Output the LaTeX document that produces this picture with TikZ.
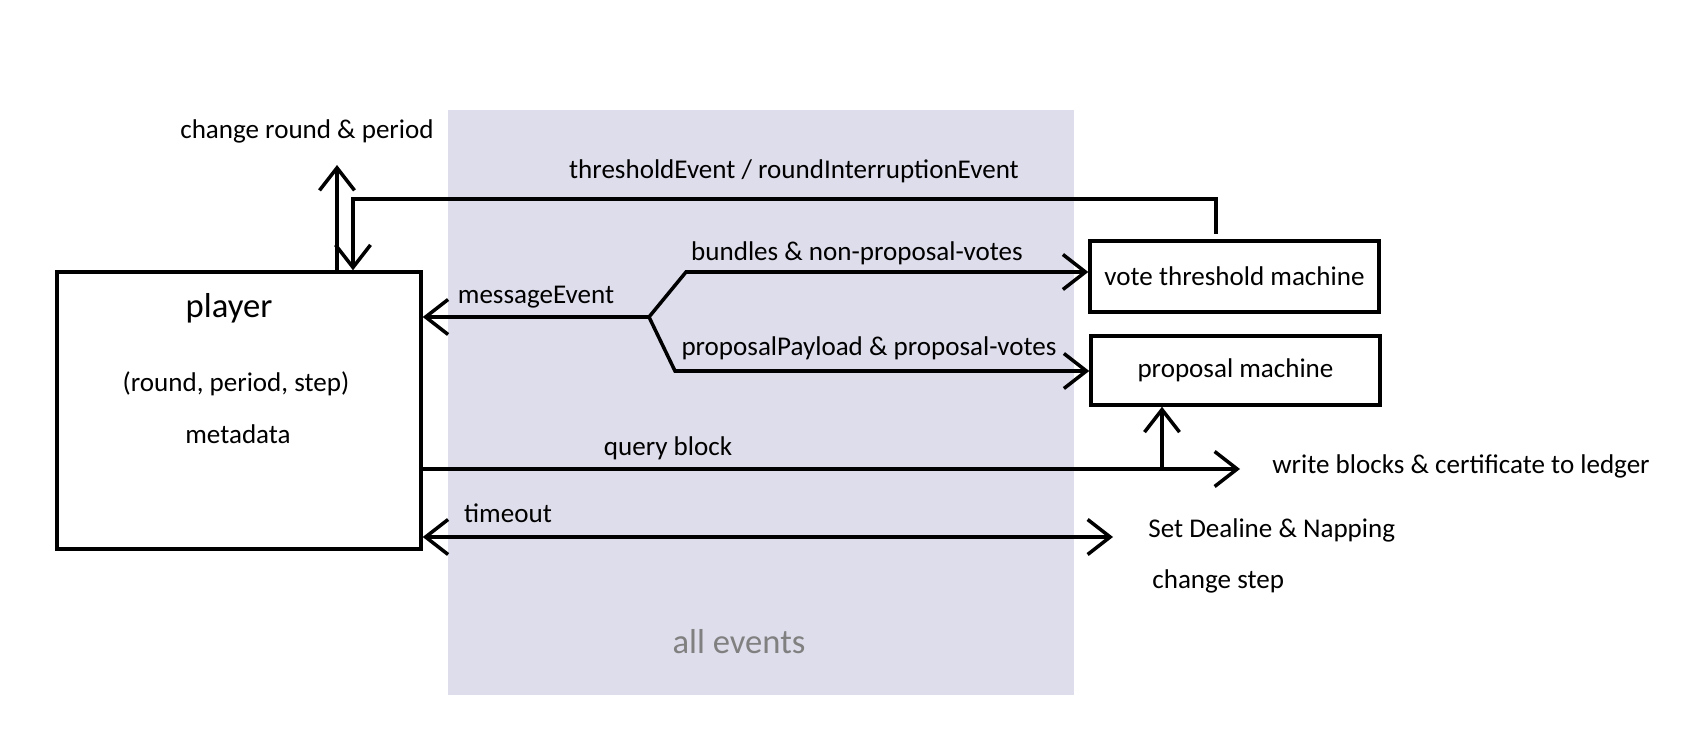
\documentclass[tikz,border=0pt]{standalone}
\usepackage{fontspec}
\setmainfont{Carlito}
\usepackage{xcolor}
\usepackage{tikz}
\usetikzlibrary{arrows.meta,positioning,calc}

\definecolor{zonefill}{RGB}{222,221,235}
\definecolor{zonetext}{RGB}{128,128,128}

\begin{document}
\begin{tikzpicture}[
    x=0.02cm, y=-0.02cm,
    zone/.style={rectangle, fill=zonefill, draw=none,
                 minimum width=12.52cm, minimum height=11.7cm},
    machine/.style={rectangle, draw=black, line width=2pt,
                 minimum width=5.78cm, minimum height=1.4cm},
    lbl/.style={inner sep=0pt, font=\fontsize{15.4}{18}\selectfont},
    big/.style={inner sep=0pt, font=\fontsize{19.7}{23}\selectfont},
    arr/.style={-{Straight Barb[length=4.5mm, width=7mm]}, line width=2pt},
    darr/.style={{Straight Barb[length=4.5mm, width=7mm]}-{Straight Barb[length=4.5mm, width=7mm]},
                 line width=2pt},
]
\useasboundingbox (0,0) rectangle (1701,746);

%% ─── Event zone ─────────────────────────────────────────────────────────────
\node[zone] (zone) at (761,402.5) {};
\node[big, text=zonetext] (allev) at (739,642) {all events};

%% ─── Player ─────────────────────────────────────────────────────────────────
\node[rectangle, draw=black, line width=2pt,
      minimum width=7.28cm, minimum height=5.54cm] (player) at (239,410.5) {};
\node[big] (p_name) at (229,308) {player};
\node[lbl] (p_rps)  at (236,384) {(round, period, step)};
\node[lbl] (p_meta) at (238,434) {metadata};

%% ─── Machines ───────────────────────────────────────────────────────────────
\node[machine, minimum height=1.42cm] (vtm) at (1234.5,276.5) {};
\node[lbl] at (vtm.center) {vote threshold machine};
\node[machine, minimum height=1.38cm] (pm) at (1235.5,370.5) {};
\node[lbl] at (pm.center) {proposal machine};

%% ─── Labels ─────────────────────────────────────────────────────────────────
\node[lbl] (chg)    at (307,131) {change round \& period};
\node[lbl] (thrlbl) at (794,171) {thresholdEvent / roundInterruptionEvent};
\node[lbl] (msglbl) at (536,297) {messageEvent};
\node[lbl] (bunlbl) at (857,253) {bundles \& non-proposal-votes};
\node[lbl] (prplbl) at (869,348) {proposalPayload \& proposal-votes};
\node[lbl] (qblbl)  at (668,448) {query block};
\node[lbl, anchor=west] (wb)   at (1272,466) {write blocks \& certificate to ledger};
\node[lbl] (tolbl)  at (508,513) {timeout};
\node[lbl, anchor=west] (sdn)  at (1148,530) {Set Dealine \& Napping};
\node[lbl, anchor=west] (cstep) at (1152,581) {change step};

%% ─── Coordinates ────────────────────────────────────────────────────────────
\coordinate (up_x)    at (337,165);
\coordinate (thr_in)  at (353,199);
\coordinate (thr_top) at (1216,199);
\coordinate (thr_st)  at (1216,234);
\coordinate (fork)    at (649,317);
\coordinate (fk_up)   at (686,272);
\coordinate (fk_dn)   at (675,371);
\coordinate (qb_end)  at (1240,469);
\coordinate (qb_up)   at (1162,469);
\coordinate (to_end)  at (1113,537);

%% ─── Round change ───────────────────────────────────────────────────────────
\draw[arr] (player.north -| up_x) -- (up_x);
\draw[arr] (thr_st) -- (thr_top) -- (thr_in) -- (player.north -| thr_in);

%% ─── Messages ───────────────────────────────────────────────────────────────
\draw[arr] (fork) -- (player.east |- fork);
\draw[arr] (fork) -- (fk_up) -- (vtm.west |- fk_up);
\draw[arr] (fork) -- (fk_dn) -- (pm.west |- fk_dn);

%% ─── Query block / timeout ──────────────────────────────────────────────────
\draw[arr]  (player.east |- qb_end) -- (qb_end);
\draw[arr]  (qb_up) -- (pm.south -| qb_up);
\draw[darr] (player.east |- to_end) -- (to_end);

\end{tikzpicture}
\end{document}
